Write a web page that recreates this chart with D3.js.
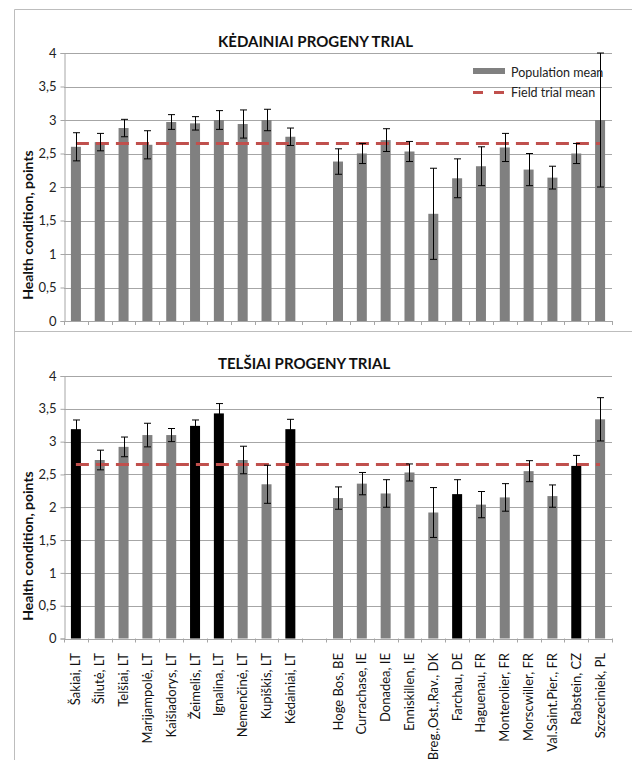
<!DOCTYPE html>
<html>
<head>
<meta charset="utf-8">
<script src="https://cdn.jsdelivr.net/npm/d3@7"></script>
<style>
  body { margin: 0; background: #fff; }
  svg { display: block; font-family: Lato, "Open Sans", sans-serif; }
</style>
</head>
<body>
<div id="chart"></div>
<script>
/* Health condition of provenances in two progeny trials */

const ltPops = ["Šakiai, LT", "Šilutė, LT", "Telšiai, LT", "Marijampolė, LT", "Kaišiadorys, LT",
  "Žeimelis, LT", "Ignalina, LT", "Nemenčinė, LT", "Kupiškis, LT", "Kėdainiai, LT"];
const otherPops = ["Hoge Bos, BE", "Currachase, IE", "Donadea, IE", "Enniskillen, IE",
  "Breg.,Ost.,Rav., DK", "Farchau, DE", "Haguenau, FR", "Monterolier, FR", "Morscwiller, FR",
  "Val.Saint.Pier., FR", "Rabstein, CZ", "Szczeciniek, PL"];
const populations = ltPops.concat(otherPops);

const kedainiaiMean = [2.60, 2.67, 2.88, 2.63, 2.97, 2.95, 3.00, 2.94, 3.00, 2.75,
  2.38, 2.50, 2.70, 2.53, 1.60, 2.13, 2.31, 2.59, 2.26, 2.14, 2.50, 3.00];
const kedainiaiErr = [0.21, 0.13, 0.13, 0.21, 0.11, 0.10, 0.14, 0.21, 0.16, 0.13,
  0.19, 0.15, 0.17, 0.15, 0.68, 0.29, 0.29, 0.21, 0.24, 0.17, 0.15, 1.00];
const kedainiaiFieldMean = 2.65;

const telsiaiMean = [3.19, 2.72, 2.92, 3.10, 3.10, 3.24, 3.43, 2.72, 2.35, 3.19,
  2.14, 2.36, 2.21, 2.53, 1.92, 2.20, 2.04, 2.15, 2.55, 2.17, 2.63, 3.34];
const telsiaiErr = [0.14, 0.15, 0.15, 0.18, 0.10, 0.09, 0.15, 0.21, 0.29, 0.15,
  0.17, 0.17, 0.21, 0.13, 0.38, 0.22, 0.20, 0.21, 0.16, 0.17, 0.16, 0.33];
const telsiaiFieldMean = 2.65;
const telsiaiHighlighted = ["Šakiai, LT", "Žeimelis, LT", "Ignalina, LT", "Kėdainiai, LT",
  "Farchau, DE", "Rabstein, CZ"];

const yTicks = [0, 0.5, 1, 1.5, 2, 2.5, 3, 3.5, 4];

const width = 632, height = 760;
const gapKey = "__gap__";
const domain = ltPops.concat([gapKey], otherPops);

const x = d3.scaleBand().domain(domain).range([64, 612]).paddingInner(0).paddingOuter(0);
const barW = 10;
const fmt = d => d3.format("~g")(d).replace(".", ",");

const svg = d3.select("#chart").append("svg")
  .attr("width", width)
  .attr("height", height);

// panel frames
svg.append("path")
  .attr("d", "M632,9.5H14.5V760 M14.5,331.5H632")
  .attr("fill", "none")
  .attr("stroke", "#bdbdbd")
  .attr("stroke-width", 1);

function drawPanel(opts) {
  const y = d3.scaleLinear().domain([0, 4]).range([opts.bottom, opts.top]);
  const g = svg.append("g");

  // gridlines
  g.append("g")
    .selectAll("line")
    .data(yTicks)
    .join("line")
    .attr("x1", 64).attr("x2", 612)
    .attr("y1", d => Math.round(y(d)) + 0.5)
    .attr("y2", d => Math.round(y(d)) + 0.5)
    .attr("stroke", "#a6a6a6");

  // y axis
  const yAxis = g.append("g")
    .attr("transform", "translate(64.5,0)")
    .call(d3.axisLeft(y).tickValues(yTicks).tickFormat(fmt).tickSize(4).tickPadding(4));
  yAxis.select(".domain").attr("stroke", "#a6a6a6");
  yAxis.selectAll(".tick line").attr("stroke", "#a6a6a6");
  yAxis.selectAll(".tick text")
    .attr("font-family", "Lato, sans-serif")
    .attr("font-size", 13)
    .attr("fill", "#222");

  // x axis ticks at category boundaries
  const bounds = domain.map(d => x(d)).concat([612]);
  g.append("g")
    .selectAll("line")
    .data(bounds)
    .join("line")
    .attr("x1", d => Math.round(d) + 0.5).attr("x2", d => Math.round(d) + 0.5)
    .attr("y1", opts.bottom).attr("y2", opts.bottom + 4)
    .attr("stroke", "#a6a6a6");

  // bars
  g.append("g")
    .selectAll("rect")
    .data(populations)
    .join("rect")
    .attr("x", d => x(d) + x.bandwidth() / 2 - barW / 2)
    .attr("width", barW)
    .attr("y", (d, i) => y(opts.mean[i]))
    .attr("height", (d, i) => y(0) - y(opts.mean[i]))
    .attr("fill", d => opts.highlight.includes(d) ? "#000" : "#808080");

  // field trial mean (dashed)
  g.append("line")
    .attr("x1", x(populations[0]) + x.bandwidth() / 2)
    .attr("x2", x(populations[populations.length - 1]) + x.bandwidth() / 2)
    .attr("y1", y(opts.field)).attr("y2", y(opts.field))
    .attr("stroke", "#c0504d")
    .attr("stroke-width", 3)
    .attr("stroke-dasharray", "13,7");

  // error bars
  g.append("g")
    .attr("stroke", "#000")
    .attr("stroke-width", 1)
    .selectAll("path")
    .data(populations)
    .join("path")
    .attr("fill", "none")
    .attr("d", (d, i) => {
      const cx = Math.round(x(d) + x.bandwidth() / 2) + 0.5;
      const y1 = y(opts.mean[i] + opts.err[i]);
      const y2 = y(opts.mean[i] - opts.err[i]);
      return `M${cx - 3.5},${y1}H${cx + 3.5}M${cx},${y1}V${y2}M${cx - 3.5},${y2}H${cx + 3.5}`;
    });

  // title
  svg.append("text")
    .attr("x", opts.titleX)
    .attr("y", opts.titleY)
    .attr("font-weight", "bold")
    .attr("font-size", 15)
    .attr("fill", "#111")
    .text(opts.title);

  // y label
  svg.append("text")
    .attr("transform", `translate(33,${opts.labelY}) rotate(-90)`)
    .attr("text-anchor", "middle")
    .attr("font-weight", "bold")
    .attr("font-size", 14)
    .attr("fill", "#111")
    .text("Health condition, points");

  return y;
}

drawPanel({
  top: 53, bottom: 321,
  mean: kedainiaiMean, err: kedainiaiErr, field: kedainiaiFieldMean,
  highlight: [],
  title: "KĖDAINIAI PROGENY TRIAL", titleX: 218, titleY: 47,
  labelY: 225
});

drawPanel({
  top: 376, bottom: 638.5,
  mean: telsiaiMean, err: telsiaiErr, field: telsiaiFieldMean,
  highlight: telsiaiHighlighted,
  title: "TELŠIAI PROGENY TRIAL", titleX: 218, titleY: 369,
  labelY: 546
});

// legend (top panel)
const legend = svg.append("g").attr("font-size", 12.5).attr("fill", "#222");
legend.append("rect")
  .attr("x", 473).attr("y", 68).attr("width", 32).attr("height", 6)
  .attr("fill", "#808080");
legend.append("text").attr("x", 511).attr("y", 77).text("Population mean");
legend.append("line")
  .attr("x1", 473).attr("x2", 505).attr("y1", 92.5).attr("y2", 92.5)
  .attr("stroke", "#c0504d").attr("stroke-width", 3)
  .attr("stroke-dasharray", "10,11");
legend.append("text").attr("x", 511).attr("y", 97).text("Field trial mean");

// x labels under bottom panel
svg.append("g")
  .attr("font-size", 13)
  .attr("fill", "#111")
  .attr("text-anchor", "end")
  .selectAll("text")
  .data(populations)
  .join("text")
  .attr("transform", d => `translate(${x(d) + x.bandwidth() / 2 + 4.5},653) rotate(-90)`)
  .text(d => d);
</script>
</body>
</html>
